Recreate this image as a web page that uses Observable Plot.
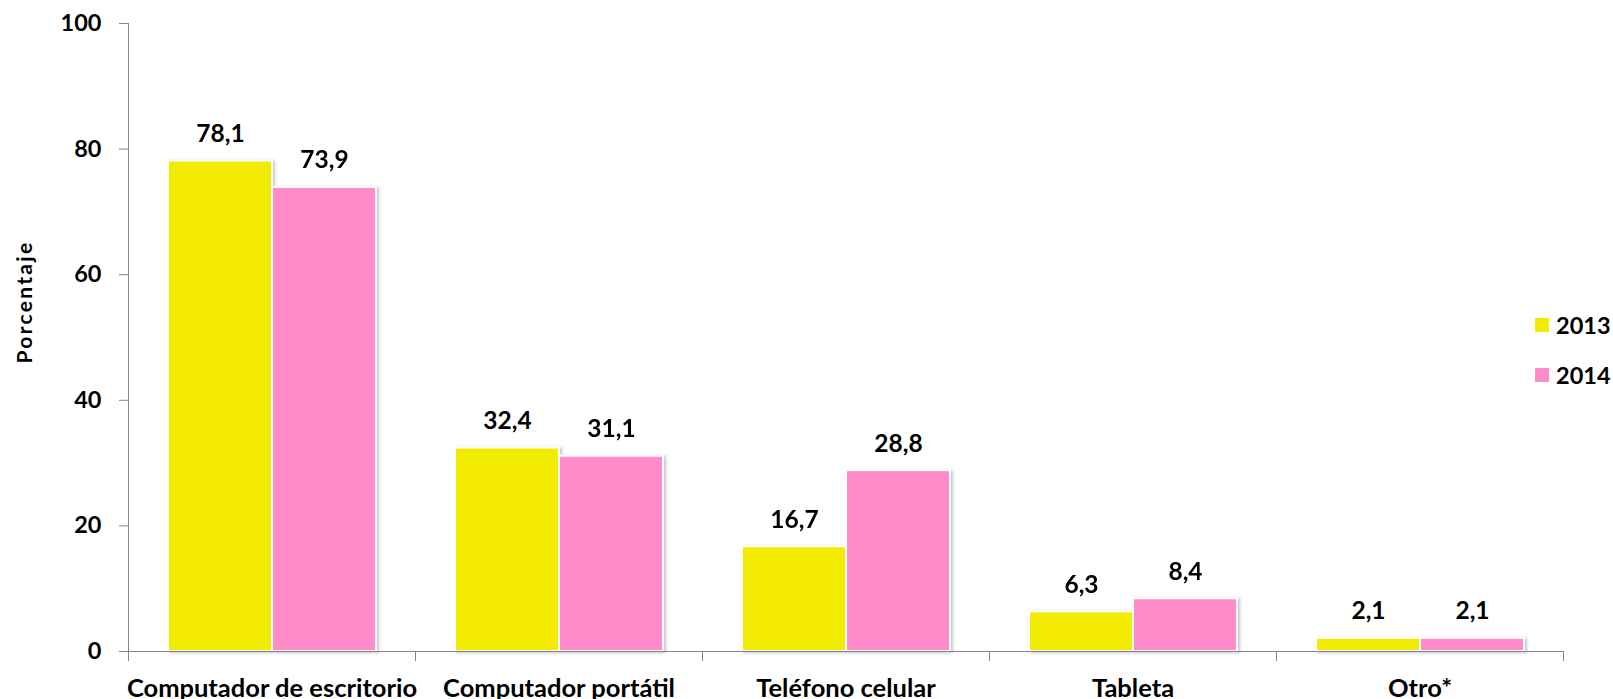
<!DOCTYPE html>
<html>
<head>
<meta charset="utf-8">
<script src="https://cdn.jsdelivr.net/npm/d3@7"></script>
<script src="https://cdn.jsdelivr.net/npm/@observablehq/plot@0.6"></script>
<style>
  html, body { margin: 0; padding: 0; background: #fff; overflow: hidden; }
  #wrap { position: relative; width: 1613px; height: 699px; }
  #legend { position: absolute; left: 1535px; top: 312px; font-family: Lato, sans-serif; font-weight: bold; font-size: 23.5px; color: #000; }
  .item { display: flex; align-items: center; height: 26px; margin-bottom: 24px; }
  .sw { width: 14px; height: 14px; margin-right: 7px; }
</style>
</head>
<body>
<div id="wrap"></div>
<script>
const categories = ["Computador de escritorio", "Computador portátil", "Teléfono celular", "Tableta", "Otro*"];
const years = ["2013", "2014"];
const values2013 = [78.1, 32.4, 16.7, 6.3, 2.1];
const values2014 = [73.9, 31.1, 28.8, 8.4, 2.1];
const yTicks = [0, 20, 40, 60, 80, 100];
const colors = ["#F3EC00", "#FF8CC8"];
const yLabel = "Porcentaje";

const rows = [];
categories.forEach((c, i) => {
  rows.push({cat: c, year: years[0], value: values2013[i]});
  rows.push({cat: c, year: years[1], value: values2014[i]});
});

const fmt = v => v.toFixed(1).replace(".", ",");
const axisGray = "#878787";

const chart = Plot.plot({
  width: 1613,
  height: 699,
  marginLeft: 127,
  marginRight: 50,
  marginTop: 23,
  marginBottom: 48,
  style: {fontFamily: "Lato, sans-serif", fontWeight: "bold", fontSize: "23.5px", color: "#000", background: "#fff"},
  fx: {domain: categories, paddingInner: 0, paddingOuter: 0, label: null},
  x: {domain: years, paddingInner: 0, paddingOuter: 0.37, axis: null},
  y: {domain: [0, 100], axis: null},
  color: {domain: years, range: colors},
  marks: [
    Plot.axisY({ticks: yTicks, tickSize: 9, tickPadding: 18, stroke: axisGray, fill: "#000", label: null, facetAnchor: "left"}),
    Plot.axisFx({anchor: "bottom", tickSize: 0, tickPadding: 27, fontSize: 25.5, label: null}),
    Plot.frame({anchor: "left", facetAnchor: "left", stroke: axisGray}),
    Plot.frame({anchor: "left", stroke: axisGray, insetTop: 628, insetBottom: -9}),
    Plot.frame({anchor: "right", facetAnchor: "right", stroke: axisGray, insetTop: 628, insetBottom: -9}),
    Plot.barY(rows, {fx: "cat", x: "year", y: "value", fill: "year", stroke: "white", strokeWidth: 2}),
    Plot.ruleY([0], {stroke: axisGray}),
    Plot.text(rows, {fx: "cat", x: "year", y: "value", text: d => fmt(d.value), lineAnchor: "bottom", dy: -19, fontSize: 24.5, fill: "#000"}),
    Plot.text([yLabel], {frameAnchor: "left", rotate: -90, dx: -103, dy: 26, fontSize: 21, facetAnchor: "left", fill: "#000"})
  ]
});

d3.select(chart).selectAll('g[aria-label="bar"]').style("filter", "drop-shadow(2px 1px 1.5px rgba(0,0,0,0.22))");
d3.select(chart).selectAll("text").filter(function() { return this.textContent === yLabel; }).style("letter-spacing", "2.3px");

const wrap = document.getElementById("wrap");
wrap.appendChild(chart);

const legend = document.createElement("div");
legend.id = "legend";
years.forEach((y, i) => {
  const item = document.createElement("div");
  item.className = "item";
  const sw = document.createElement("div");
  sw.className = "sw";
  sw.style.background = colors[i];
  const t = document.createElement("span");
  t.textContent = y;
  item.appendChild(sw);
  item.appendChild(t);
  legend.appendChild(item);
});
wrap.appendChild(legend);
</script>
</body>
</html>
